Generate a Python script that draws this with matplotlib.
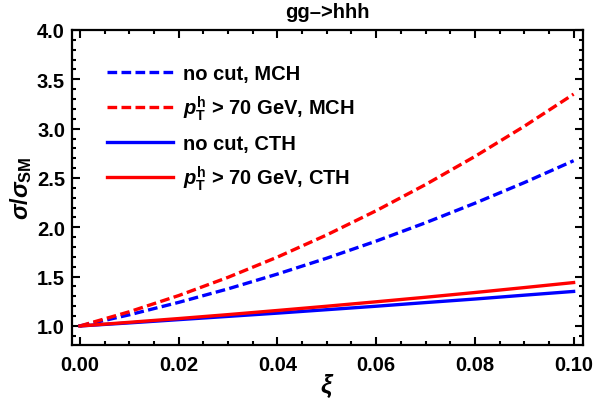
import matplotlib
matplotlib.use("Agg")
import matplotlib.pyplot as plt
from matplotlib.ticker import MultipleLocator, FormatStrFormatter

plt.rcParams['font.family'] = ['Liberation Sans', 'DejaVu Sans']
plt.rcParams['font.weight'] = 'bold'
plt.rcParams['mathtext.fontset'] = 'custom'
plt.rcParams['mathtext.rm'] = 'Liberation Sans:bold'
plt.rcParams['mathtext.bf'] = 'Liberation Sans:bold'
plt.rcParams['mathtext.it'] = 'Liberation Sans:bold:italic'
plt.rcParams['mathtext.sf'] = 'Liberation Sans:bold'

xi = [0.00, 0.01, 0.02, 0.03, 0.04, 0.05, 0.06, 0.07, 0.08, 0.09, 0.10]
mch_nocut = [1.000, 1.113, 1.239, 1.376, 1.526, 1.687, 1.860, 2.046, 2.244, 2.453, 2.675]
mch_ptcut = [1.000, 1.144, 1.308, 1.493, 1.698, 1.923, 2.168, 2.433, 2.718, 3.024, 3.350]
cth_nocut = [1.000, 1.031, 1.064, 1.097, 1.130, 1.165, 1.200, 1.237, 1.273, 1.312, 1.350]
cth_ptcut = [1.000, 1.037, 1.075, 1.115, 1.157, 1.200, 1.245, 1.291, 1.339, 1.389, 1.440]

labels = ["no cut, MCH",
          r"$p_\mathrm{T}^\mathrm{h}$ > 70 GeV, MCH",
          "no cut, CTH",
          r"$p_\mathrm{T}^\mathrm{h}$ > 70 GeV, CTH"]

fig = plt.figure(figsize=(5.94, 4.02), dpi=100)
ax = fig.add_axes([72/594, 1-346/402, (583-72)/594, (346-31)/402])

lw = 2.4
dash = (0, (2.9, 1.3))
ax.plot(xi, mch_nocut, color='#0000ff', lw=lw, ls=dash, label=labels[0])
ax.plot(xi, mch_ptcut, color='#ff0000', lw=lw, ls=dash, label=labels[1])
ax.plot(xi, cth_nocut, color='#0000ff', lw=lw, label=labels[2])
ax.plot(xi, cth_ptcut, color='#ff0000', lw=lw, label=labels[3])

ax.set_xlim(-0.0016, 0.1019)
ax.set_ylim(0.807, 4.0)
ax.xaxis.set_major_locator(MultipleLocator(0.02))
ax.xaxis.set_minor_locator(MultipleLocator(0.005))
ax.yaxis.set_major_locator(MultipleLocator(0.5))
ax.yaxis.set_minor_locator(MultipleLocator(0.1))
ax.xaxis.set_major_formatter(FormatStrFormatter('%.2f'))
ax.yaxis.set_major_formatter(FormatStrFormatter('%.1f'))
ax.tick_params(which='both', direction='in', top=True, right=True, width=1.5, labelsize=14.5)
ax.tick_params(which='major', length=5.5)
ax.tick_params(which='minor', length=3)
ax.tick_params(axis='x', pad=7)
ax.tick_params(axis='y', pad=5)
for s in ax.spines.values():
    s.set_linewidth(1.6)
for t in ax.get_xticklabels() + ax.get_yticklabels():
    t.set_fontweight('bold')

ax.set_xlabel(r"$\xi$", fontsize=18, labelpad=-1)
ax.set_ylabel(r"$\sigma/\sigma_{\mathrm{SM}}$", fontsize=17, labelpad=2)
ax.set_title("gg\u2013>hhh", fontsize=14.5, fontweight='bold', pad=9)

leg = ax.legend(loc='upper left', bbox_to_anchor=(0.0685, 0.893), frameon=False,
                borderpad=0, borderaxespad=0,
                fontsize=14.5, handlelength=3.3, handletextpad=0.45, labelspacing=0.55)
for t in leg.get_texts():
    t.set_fontweight('bold')

fig.savefig("out.png", dpi=100)
